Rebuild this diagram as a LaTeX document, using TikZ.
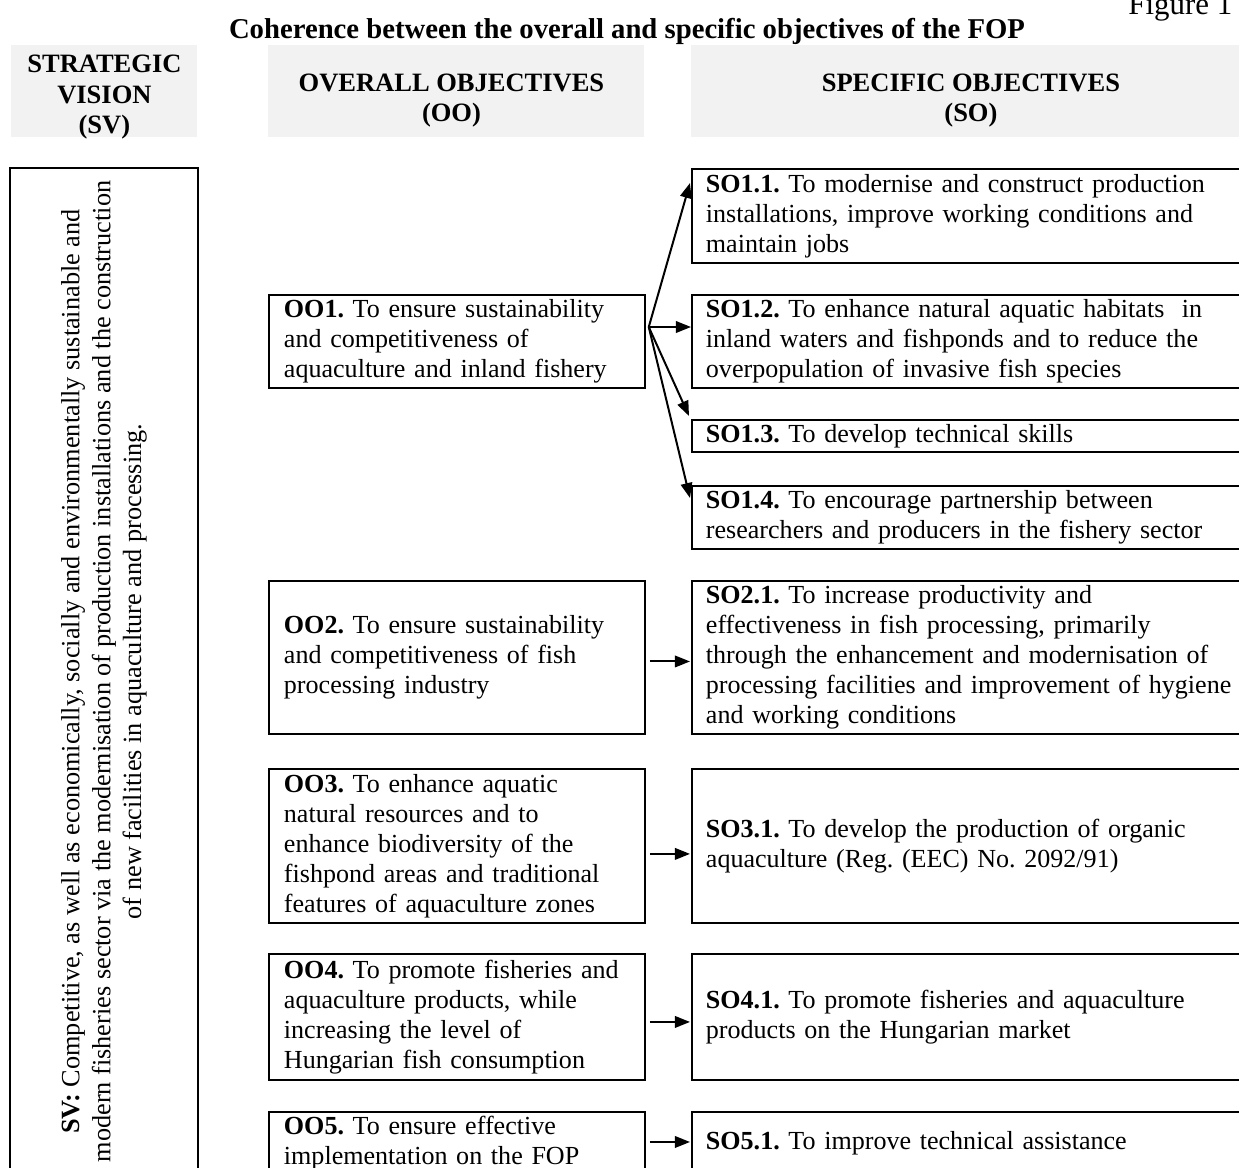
\documentclass[tikz,border=0pt]{standalone}
\usepackage{fontspec}
\setmainfont{Liberation Serif}
\usetikzlibrary{arrows.meta,calc}
\definecolor{hdr}{HTML}{F2F2F2}
\frenchspacing
\begin{document}
\begin{tikzpicture}[x=0.4528pt,y=-0.4528pt,
  every node/.style={font=\fontsize{11.8}{13.6}\selectfont},
  hdrbox/.style={fill=hdr, inner sep=0pt, anchor=north west, minimum height=41.66pt},
  hdrtext/.style={font=\fontsize{12}{13.8}\selectfont\bfseries, align=center, inner sep=0pt},
  obox/.style={draw, line width=0.85pt, anchor=north west, align=left, inner xsep=6.8pt, inner ysep=0pt, text width=156.6pt},
  sbox/.style={draw, line width=0.85pt, anchor=north west, align=left, inner xsep=6.34pt, inner ysep=0pt, text width=250pt},
  arr/.style={line width=0.9pt, -{Triangle[length=6.8pt,width=5.2pt]}}]
\useasboundingbox (0,0) rectangle (1239,1167);
\clip (0,0) rectangle (1239,1167);

% title and figure number
\node[font=\fontsize{14}{16}\selectfont, anchor=base west, inner sep=0pt] (fig) at (1128,14) {Figure 1};
\node[font=\fontsize{13}{15}\selectfont\bfseries, anchor=base, inner sep=0pt] (title) at (627,38) {Coherence between the overall and specific objectives of the FOP};

% column headers
\node[hdrbox, minimum width=84.2pt] (hSV) at (11,45) {};
\node[hdrbox, minimum width=170.25pt] (hOO) at (268,45) {};
\node[hdrbox, minimum width=253.1pt] (hSO) at (691,45) {};
\node[hdrtext] (tSV) at ($(hSV.center)+(0,6)$) {STRATEGIC\\VISION\\(SV)};
\node[hdrtext] (tOO) at ($(hOO.center)+(-5,9)$) {OVERALL OBJECTIVES\\(OO)};
\node[hdrtext] (tSO) at ($(hSO.center)+(0,9)$) {SPECIFIC OBJECTIVES\\(SO)};

% strategic vision
\node[draw, line width=0.85pt, rotate=90, minimum width=456pt, minimum height=85.1pt, align=center, inner sep=0pt, font=\fontsize{11.9}{14}\selectfont] (SV) at (104,671.5)
  {\textbf{SV:} Competitive, as well as economically, socially and environmentally sustainable and\\
   modern fisheries sector via the modernisation of production installations and the construction\\
   of new facilities in aquaculture and processing.};

% overall objectives
\node[obox, minimum height=42.1pt] (OO1) at (268,294)
  {\textbf{OO1.} To ensure sustainability\\and competitiveness of\\aquaculture and inland fishery};
\node[obox, minimum height=69.3pt] (OO2) at (268,580)
  {\textbf{OO2.} To ensure sustainability\\and competitiveness of fish\\processing industry};
\node[obox, minimum height=69.7pt] (OO3) at (268,768)
  {\textbf{OO3.} To enhance aquatic\\natural resources and to\\enhance biodiversity of the\\fishpond areas and traditional\\features of aquaculture zones};
\node[obox, minimum height=57.05pt] (OO4) at (268,953)
  {\textbf{OO4.} To promote fisheries and\\aquaculture products, while\\increasing the level of\\Hungarian fish consumption};
\node[obox, minimum height=28.1pt] (OO5) at (268,1111)
  {\textbf{OO5.} To ensure effective\\implementation on the FOP};

% specific objectives
\node[sbox, minimum height=42.56pt] (SO11) at (691,168)
  {\textbf{SO1.1.} To modernise and construct production\\installations, improve working conditions and\\maintain jobs};
\node[sbox, minimum height=42.1pt] (SO12) at (691,294)
  {\textbf{SO1.2.} To enhance natural aquatic habitats\ \ in\\inland waters and fishponds and to reduce the\\overpopulation of invasive fish species};
\node[sbox, minimum height=14.5pt] (SO13) at (691,419)
  {\textbf{SO1.3.} To develop technical skills};
\node[sbox, minimum height=28.5pt] (SO14) at (691,485)
  {\textbf{SO1.4.} To encourage partnership between\\researchers and producers in the fishery sector};
\node[sbox, minimum height=69.3pt] (SO21) at (691,580)
  {\textbf{SO2.1.} To increase productivity and\\effectiveness in fish processing, primarily\\through the enhancement and modernisation of\\processing facilities and improvement of hygiene\\and working conditions};
\node[sbox, minimum height=69.7pt] (SO31) at (691,768)
  {\textbf{SO3.1.} To develop the production of organic\\aquaculture (Reg. (EEC) No. 2092/91)};
\node[sbox, minimum height=57.05pt] (SO41) at (691,953)
  {\textbf{SO4.1.} To promote fisheries and aquaculture\\products on the Hungarian market};
\node[sbox, minimum height=28.1pt] (SO51) at (691,1111)
  {\textbf{SO5.1.} To improve technical assistance};

% connectors
\coordinate (fan) at ($(OO1.north east)+(3,33)$);
\draw[arr] (fan) -- ($(SO11.north west)+(-1,15)$);
\draw[arr] (fan) -- (fan -| SO12.west);
\draw[arr] (fan) -- ($(SO13.north west)+(-2,-3)$);
\draw[arr] (fan) -- ($(SO14.north west)+(-1,13)$);
\draw[arr] ($(OO2.east)+(4,4)$) -- ($(SO21.west)+(-1,4)$);
\draw[arr] ($(OO3.east)+(4,8)$) -- ($(SO31.west)+(-1,8)$);
\draw[arr] ($(OO4.east)+(4,5)$) -- ($(SO41.west)+(-1,5)$);
\draw[arr] ($(OO5.east)+(4,-1)$) -- ($(SO51.west)+(-1,-1)$);
\end{tikzpicture}
\end{document}
